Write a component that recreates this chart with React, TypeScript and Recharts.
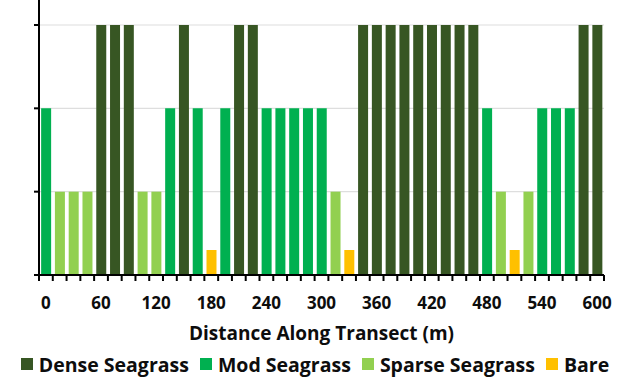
import React from 'react';
import { BarChart, Bar, XAxis, YAxis, CartesianGrid, Legend } from 'recharts';

// Distance along transect (m)
const distances = [
  0, 15, 30, 45, 60, 75, 90, 105, 120, 135, 150, 165, 180, 195, 210, 225, 240, 255, 270, 285,
  300, 315, 330, 345, 360, 375, 390, 405, 420, 435, 450, 465, 480, 495, 510, 525, 540, 555, 570,
  585, 600,
];

// Cover class observed at each distance
const coverClass = [
  'Mod', 'Sparse', 'Sparse', 'Sparse', 'Dense', 'Dense', 'Dense', 'Sparse', 'Sparse', 'Mod',
  'Dense', 'Mod', 'Bare', 'Mod', 'Dense', 'Dense', 'Mod', 'Mod', 'Mod', 'Mod',
  'Mod', 'Sparse', 'Bare', 'Dense', 'Dense', 'Dense', 'Dense', 'Dense', 'Dense', 'Dense',
  'Dense', 'Dense', 'Mod', 'Sparse', 'Bare', 'Sparse', 'Mod', 'Mod', 'Mod', 'Dense',
  'Dense',
];

// Bar height drawn for each class
const classLevels: Record<string, number> = { Dense: 3, Mod: 2, Sparse: 1, Bare: 0.3 };

const seriesKeys = ['Dense', 'Mod', 'Sparse', 'Bare'];
const seriesNames = ['Dense Seagrass', 'Mod Seagrass', 'Sparse Seagrass', 'Bare'];
const seriesColors = ['#375623', '#00B050', '#92D050', '#FFC000'];
const xTickLabels = [0, 60, 120, 180, 240, 300, 360, 420, 480, 540, 600];
const yTicks = [0, 1, 2, 3];
const Y_MAX = 3.3;

const data = distances.map((d, i) => {
  const row: Record<string, number | null> = { distance: d };
  seriesKeys.forEach((k) => {
    row[k] = coverClass[i] === k ? classLevels[k] : null;
  });
  return row;
});

const W = 630;
const H = 388;
const Y_AXIS_W = 1;
const MARGIN = { top: 0, right: 26, left: 38, bottom: 12 };
const FONT = '"Open Sans", "Liberation Sans", sans-serif';
const HALF_BAND = (W - MARGIN.left - Y_AXIS_W - MARGIN.right) / distances.length / 2;

const XTick = (props: any) => {
  const { x, y, payload, index } = props;
  const last = index === distances.length - 1;
  const showLabel = xTickLabels.includes(payload.value);
  return (
    <g>
      <line x1={x - HALF_BAND} x2={x - HALF_BAND} y1={y} y2={y + 6} stroke="#000" strokeWidth={2} />
      {last && (
        <line x1={x + HALF_BAND} x2={x + HALF_BAND} y1={y} y2={y + 6} stroke="#000" strokeWidth={2} />
      )}
      {showLabel && (
        <text
          x={x}
          y={y + 34}
          textAnchor="middle"
          fontFamily={FONT}
          fontWeight={700}
          fontSize={17}
          fill="#0d0d0d"
        >
          {payload.value}
        </text>
      )}
    </g>
  );
};

const CustomLegend = () => (
  <div
    style={{
      display: 'flex',
      justifyContent: 'center',
      alignItems: 'center',
      height: 24,
      width: W,
      fontFamily: FONT,
      fontWeight: 700,
      fontSize: 19.5,
      color: '#0d0d0d',
      whiteSpace: 'nowrap',
    }}
  >
    {seriesNames.map((name, i) => (
      <div
        key={name}
        style={{
          display: 'flex',
          alignItems: 'center',
          flexShrink: 0,
          marginRight: i === seriesNames.length - 1 ? 0 : 11,
        }}
      >
        <span
          style={{
            display: 'inline-block',
            width: 12,
            height: 12,
            background: seriesColors[i],
            marginRight: 6,
          }}
        />
        <span>{name}</span>
      </div>
    ))}
  </div>
);

export default function App() {
  return (
    <div style={{ position: 'absolute', left: 0, top: 0, background: '#fff' }}>
      <BarChart width={W} height={H} data={data} margin={MARGIN} barCategoryGap="15.5%">
        <CartesianGrid
          vertical={false}
          stroke="#dedede"
          strokeWidth={1.2}
          horizontalCoordinatesGenerator={({ offset }: any) =>
            yTicks.map((t) => offset.top + offset.height * (1 - t / Y_MAX))
          }
        />
        <XAxis
          dataKey="distance"
          interval={0}
          tickLine={false}
          tickSize={0}
          tickMargin={0}
          height={77}
          axisLine={{ stroke: '#000', strokeWidth: 2 }}
          tick={<XTick />}
          label={{
            value: 'Distance Along Transect (m)',
            position: 'insideBottom',
            offset: 12,
            style: { fontFamily: FONT, fontWeight: 700, fontSize: 19, fill: '#0d0d0d' },
          }}
        />
        <YAxis
          width={Y_AXIS_W}
          domain={[0, Y_MAX]}
          ticks={yTicks}
          allowDataOverflow
          tick={() => <g />}
          tickSize={5}
          tickLine={{ stroke: '#000', strokeWidth: 2 }}
          axisLine={{ stroke: '#000', strokeWidth: 2 }}
        />
        <Legend
          verticalAlign="bottom"
          height={24}
          wrapperStyle={{ left: 0, width: W }}
          content={() => <CustomLegend />}
        />
        {seriesKeys.map((k, i) => (
          <Bar
            key={k}
            dataKey={k}
            name={seriesNames[i]}
            stackId="cover"
            fill={seriesColors[i]}
            isAnimationActive={false}
          />
        ))}
      </BarChart>
    </div>
  );
}
